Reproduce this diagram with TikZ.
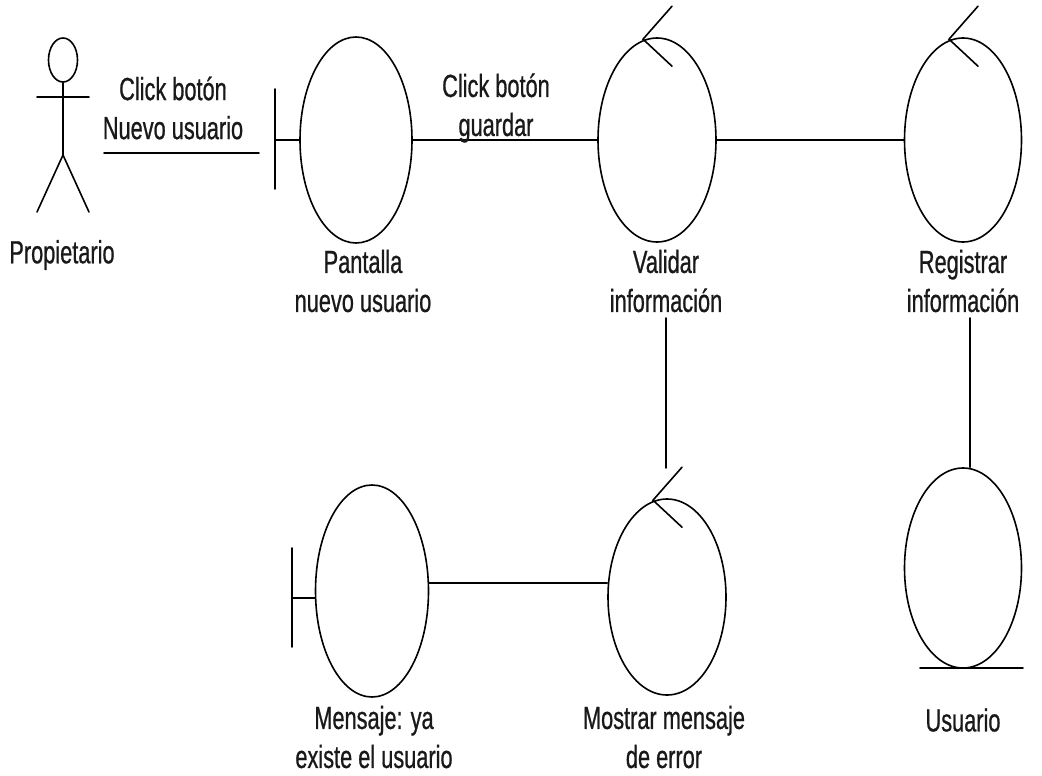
\documentclass[tikz,border=0pt]{standalone}
\usepackage{fontspec}
\setmainfont{Liberation Sans}[FakeStretch=0.68,FakeBold=0.7]
\usetikzlibrary{shapes.geometric,calc}
\tikzset{
  ln/.style={line width=1.6pt, line cap=round},
  obj/.style={ellipse, draw, line width=1.6pt, inner sep=0pt},
  lbl/.style={align=center, inner sep=0pt, font=\fontsize{32}{39}\selectfont, text=black!90}
}
\begin{document}
\begin{tikzpicture}[x=1pt,y=-1pt]
\useasboundingbox (0,0) rectangle (1042,776);
% actor
\node[obj, minimum width=29, minimum height=44] (head) at (63,60) {};
\coordinate (hip) at (63,155);
\coordinate (armL) at (37,97);
\coordinate (armR) at (89,97);
\coordinate (legL) at (37,212);
\coordinate (legR) at (89,212);
\draw[ln] (head.south) -- (hip);
\draw[ln] (armL) -- (armR);
\draw[ln] (legL) -- (hip) -- (legR);
\node[lbl] (plab) at (62,255) {Propietario};

% objects
\node[obj, minimum width=112, minimum height=206] (pan) at (356,140) {};
\node[obj, minimum width=118, minimum height=204] (val) at (657,140) {};
\node[obj, minimum width=117, minimum height=204] (reg) at (963,140) {};
\node[obj, minimum width=113, minimum height=212] (men) at (372,591) {};
\node[obj, minimum width=118, minimum height=196] (mos) at (667,597) {};
\node[obj, minimum width=117, minimum height=200] (usu) at (963,568) {};

% boundary bars
\coordinate (panBar) at (275,140);
\draw[ln] (275,89) -- (275,189);
\draw[ln] (panBar) -- (pan.west);
\coordinate (menBar) at (292,598);
\draw[ln] (292,548) -- (292,647);
\draw[ln] (menBar) -- (men.west |- menBar);

% control arrows
\foreach \n in {val,reg,mos}{
  \draw[ln] ($(\n.north)+(15,-31)$) -- ($(\n.north)+(-14,2)$) -- ($(\n.north)+(15,29)$);
}
% entity underline
\draw[ln] (920,668) -- (1023,668);

% labels
\node[lbl] (panl) at (363,281) {Pantalla\\nuevo usuario};
\node[lbl] (vall) at (666,281) {Validar\\información};
\node[lbl] (regl) at (963,281) {Registrar\\información};
\node[lbl] (menl) at (374,737) {Mensaje: ya\\existe el usuario};
\node[lbl] (mosl) at (664,737) {Mostrar mensaje\\de error};
\node[lbl] (usul) at (963,720) {Usuario};

% connectors
\coordinate (aStart) at (104,153);
\coordinate (aEnd) at (259,153);
\draw[ln] (aStart) -- (aEnd);
\node[lbl] (m1) at (173,108) {Click botón\\Nuevo usuario};
\draw[ln] (pan.east) -- (val.west);
\node[lbl] (m2) at (496,108) {Click botón\\guardar};
\draw[ln] (val.east) -- (reg.west);
\coordinate (valBot) at (666,318);
\coordinate (mosTop) at (666,468);
\draw[ln] (vall.south |- valBot) -- (vall.south |- mosTop);
\coordinate (regBot) at (970,318);
\draw[ln] (regBot) -- (regBot |- usu.north);
\draw[ln] ($(men.east)+(0,-8)$) -- ($(mos.west)+(0,-14)$);
\end{tikzpicture}
\end{document}
